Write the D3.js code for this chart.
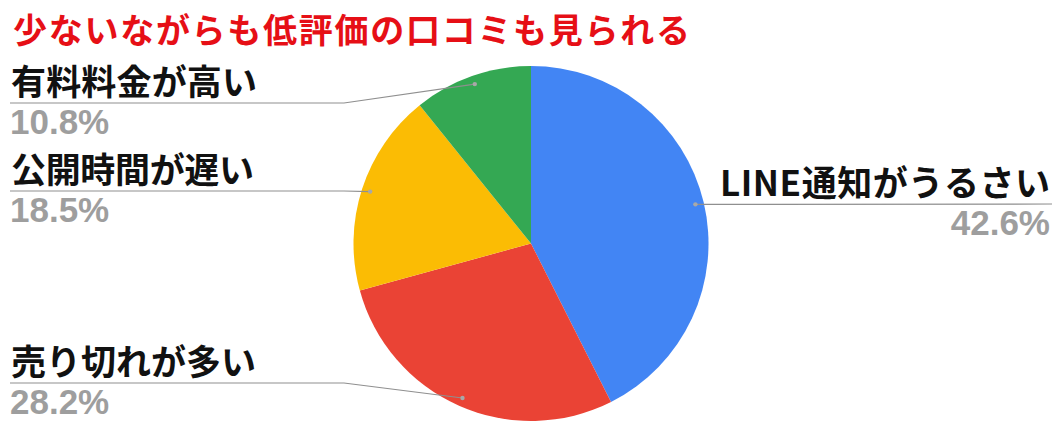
<!DOCTYPE html>
<html>
<head>
<meta charset="utf-8">
<script src="https://cdn.jsdelivr.net/npm/d3@7/dist/d3.min.js"></script>
<style>
  html, body { margin: 0; padding: 0; background: #fff; }
  svg { display: block; }
</style>
</head>
<body>
<svg id="chart" width="1060" height="430"></svg>
<script>
const title = "少ないながらも低評価の口コミも見られる";
const categories = ["LINE通知がうるさい", "売り切れが多い", "公開時間が遅い", "有料料金が高い"];
const values = [42.6, 28.2, 18.5, 10.8];
const colors = ["#4285f4", "#ea4335", "#fbbc04", "#34a853"];

// layout (not data)
const W = 1060, H = 430;
const cx = 531, cy = 243.5, R = 177.5, dotR = 169;
const labelLineY = [204, 383, 191, 103];
const labelSide = ["right", "left", "left", "left"];
const labelWidth = [330, 245, 243, 246];

const svg = d3.select("#chart");
const fontCJK = "'Noto Sans CJK JP', 'Noto Sans', sans-serif";
const fontNum = "'Liberation Sans', Arial, sans-serif";

svg.append("text")
  .attr("x", 13).attr("y", 43)
  .attr("font-family", fontCJK)
  .attr("font-weight", 700)
  .attr("font-size", 34)
  .attr("fill", "#e60f16")
  .attr("textLength", 677)
  .attr("lengthAdjust", "spacing")
  .text(title);

const pie = d3.pie().sort(null).value(d => d.v).startAngle(0).endAngle(2 * Math.PI);
const data = categories.map((c, i) => ({ c, v: values[i], col: colors[i], i }));
const arcs = pie(data);
const arc = d3.arc().innerRadius(0).outerRadius(R);
const dotArc = d3.arc().innerRadius(dotR).outerRadius(dotR);

const g = svg.append("g").attr("transform", `translate(${cx},${cy})`);
g.selectAll("path.slice").data(arcs).join("path")
  .attr("class", "slice")
  .attr("d", arc)
  .attr("fill", d => d.data.col)
  .attr("stroke", "none");

const fmt = d3.format(".1f");

arcs.forEach((a, i) => {
  const [dx, dy] = dotArc.centroid(a);
  const px = cx + dx, py = cy + dy;
  const ly = labelLineY[i];
  const side = labelSide[i];
  let pts;
  if (side === "left") {
    pts = [[10, ly], [344, ly], [px, py]];
  } else {
    pts = [[1052, ly], [px, py]];
  }
  svg.append("path")
    .attr("d", d3.line()(pts))
    .attr("fill", "none")
    .attr("stroke", "#8f8f8f")
    .attr("stroke-width", 1.2);
  svg.append("circle")
    .attr("cx", px).attr("cy", py).attr("r", 2.2)
    .attr("fill", "#a8a8a8");

  const tx = side === "left" ? 11 : 1050;
  const anchor = side === "left" ? "start" : "end";
  svg.append("text")
    .attr("x", tx).attr("y", ly - 8.5)
    .attr("text-anchor", anchor)
    .attr("font-family", fontCJK)
    .attr("font-weight", 700)
    .attr("font-size", 35)
    .attr("fill", "#111")
    .attr("textLength", labelWidth[i])
    .attr("lengthAdjust", "spacing")
    .text(a.data.c);
  svg.append("text")
    .attr("x", side === "left" ? 10 : 1050).attr("y", ly + 31)
    .attr("text-anchor", anchor)
    .attr("font-family", fontNum)
    .attr("font-weight", 700)
    .attr("font-size", 35)
    .attr("fill", "#9e9e9e")
    .text(fmt(a.data.v) + "%");
});
</script>
</body>
</html>
